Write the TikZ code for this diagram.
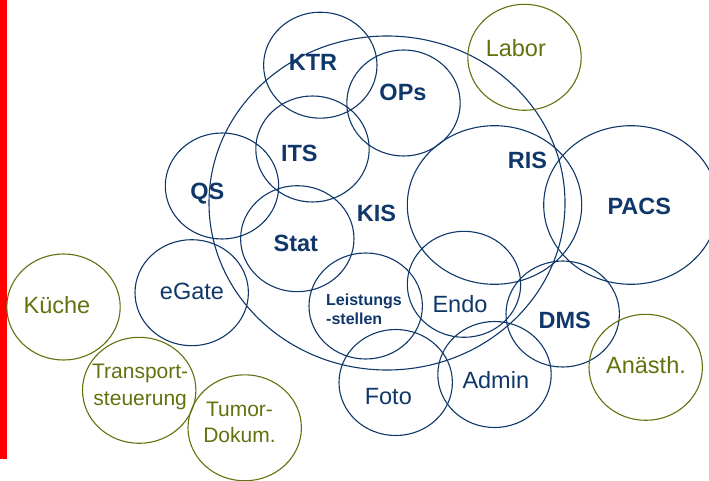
\documentclass[tikz,border=0pt]{standalone}
\usepackage{fontspec}
\setmainfont{Liberation Sans}
\usepackage{tikz}
\usetikzlibrary{shapes.geometric}
\definecolor{kisblue}{RGB}{15,55,105}
\definecolor{extgreen}{RGB}{95,115,15}

\begin{document}
\begin{tikzpicture}[x=1pt,y=-1pt,
  ring/.style={ellipse, draw=kisblue, line width=1.1pt, inner sep=0pt, minimum width=113.4pt, minimum height=106pt},
  bigring/.style={ring, minimum width=174.4pt, minimum height=158.6pt},
  extring/.style={ring, draw=extgreen},
  lbl/.style={anchor=base, text=kisblue, inner sep=0pt, font=\fontsize{23.5}{27}\selectfont},
  blbl/.style={lbl, font=\fontsize{23.5}{27}\selectfont\bfseries},
  extlbl/.style={lbl, text=extgreen}]
\useasboundingbox (0,0) rectangle (709,481);
\fill[red] (0,0) rectangle (6.7,459);
% the KIS ring
\node[ellipse, draw=kisblue, line width=1.1pt, inner sep=0pt, minimum width=356pt, minimum height=334pt] (kis) at (387,203) {};
\node[ring] (ktr) at (320.3,65.2) {};
\node[ring] (ops) at (403.5,103) {};
\node[ring] (its) at (312.5,149) {};
\node[ring] (qs) at (222,186) {};
\node[ring] (stat) at (297.3,238.7) {};
\node[ring] (egate) at (191.7,292.7) {};
\node[ring] (leist) at (365.7,306) {};
\node[ring] (endo) at (464,284.3) {};
\node[ring] (dms) at (562.7,314) {};
\node[ring] (admin) at (494.5,374.5) {};
\node[ring] (foto) at (395.7,382.5) {};
\node[bigring] (ris) at (494.5,205) {};
\node[bigring] (pacs) at (630.9,205) {};
% outside partners
\node[extring] (labor) at (524.5,57.3) {};
\node[extring] (kueche) at (63.5,307) {};
\node[extring] (transp) at (139.2,390.3) {};
\node[extring] (tumor) at (244.7,427.8) {};
\node[extring] (anaesth) at (645.7,367.3) {};
% labels
\node[blbl] (ktr-l) at (313,71) {KTR};
\node[blbl] (ops-l) at (403,100.5) {OPs};
\node[blbl] (its-l) at (299.3,161.7) {ITS};
\node[blbl] (qs-l) at (207.3,199.5) {QS};
\node[blbl] (kis-l) at (376.5,221.7) {KIS};
\node[blbl] (stat-l) at (295.8,251.7) {Stat};
\node[blbl] (ris-l) at (527.5,169) {RIS};
\node[blbl] (pacs-l) at (639.3,214.3) {PACS};
\node[blbl] (dms-l) at (564.8,328.3) {DMS};
\node[lbl] (egate-l) at (192,299.3) {eGate};
\node[lbl] (endo-l) at (460,312.7) {Endo};
\node[lbl] (admin-l) at (495.8,388.3) {Admin};
\node[lbl] (foto-l) at (388.3,404) {Foto};
\node[lbl, anchor=base west, align=left, font=\fontsize{16}{18.3}\selectfont\bfseries] (leist-l) at (326,324) {Leistungs\\-stellen};
\node[extlbl] (labor-l) at (515.8,56.7) {Labor};
\node[extlbl] (kueche-l) at (57,313.3) {Küche};
\node[extlbl] (anaesth-l) at (646,373.3) {Anästh.};
\node[extlbl, align=center, font=\fontsize{21}{26.7}\selectfont] (transp-l) at (140.2,405) {Transport-\\steuerung};
\node[extlbl, align=center, font=\fontsize{21}{26.3}\selectfont] (tumor-l) at (239.5,442.3) {Tumor-\\Dokum.};
\end{tikzpicture}
\end{document}
